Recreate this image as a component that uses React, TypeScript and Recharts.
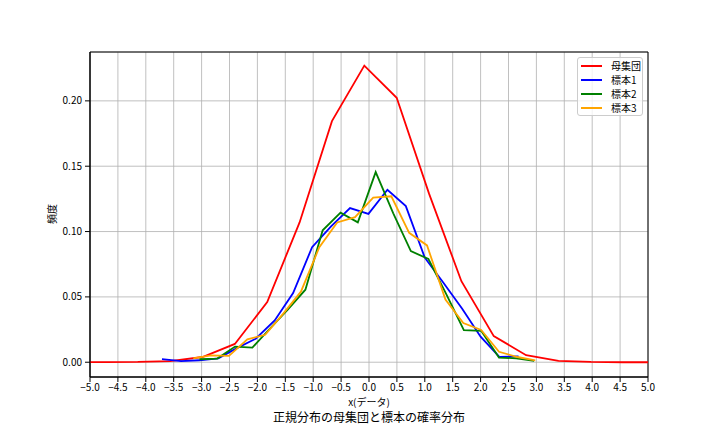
import { CartesianGrid, Line, LineChart, ReferenceArea, XAxis, YAxis } from 'recharts';

// 階級の中心 (x) と相対度数 (y)
const popX = [-5.304, -4.724, -4.144, -3.564, -2.984, -2.404, -1.824, -1.244, -0.664, -0.084, 0.496, 1.076, 1.656, 2.236, 2.816, 3.396, 3.976, 4.556, 5.136];
const popY = [0, 0.0001, 0.0002, 0.0009, 0.004, 0.014, 0.046, 0.107, 0.1845, 0.227, 0.2024, 0.129, 0.062, 0.02, 0.0054, 0.001, 0.0002, 0, 0];

const s1X = [-3.71, -3.37, -3.04, -2.7, -2.36, -2.03, -1.69, -1.36, -1.02, -0.68, -0.34, -0.01, 0.33, 0.66, 1.0, 1.33, 1.67, 2.0, 2.34, 2.68];
const s1Y = [0.0023, 0.0008, 0.0015, 0.003, 0.011, 0.018, 0.032, 0.053, 0.088, 0.104, 0.118, 0.1135, 0.132, 0.1195, 0.08, 0.061, 0.041, 0.0196, 0.004, 0.0045];

const s2X = [-3.04, -2.72, -2.4, -2.09, -1.77, -1.46, -1.14, -0.83, -0.51, -0.2, 0.12, 0.435, 0.75, 1.065, 1.38, 1.7, 2.01, 2.33, 2.64, 2.96];
const s2Y = [0.0023, 0.0028, 0.012, 0.0112, 0.026, 0.04, 0.0555, 0.101, 0.1145, 0.107, 0.1455, 0.114, 0.085, 0.079, 0.0525, 0.0245, 0.024, 0.0036, 0.003, 0.001];

const s3X = [-3.15, -2.83, -2.51, -2.18, -1.86, -1.54, -1.22, -0.89, -0.57, -0.25, 0.075, 0.4, 0.72, 1.04, 1.37, 1.69, 2.01, 2.33, 2.66, 2.98];
const s3Y = [0.003, 0.0053, 0.0048, 0.0175, 0.021, 0.037, 0.054, 0.088, 0.107, 0.111, 0.126, 0.127, 0.099, 0.0894, 0.048, 0.03, 0.0247, 0.008, 0.004, 0.0015];

const xTicks = [-5, -4.5, -4, -3.5, -3, -2.5, -2, -1.5, -1, -0.5, 0, 0.5, 1, 1.5, 2, 2.5, 3, 3.5, 4, 4.5, 5];
const yTicks = [0, 0.05, 0.1, 0.15, 0.2];

const seriesNames = ['母集団', '標本1', '標本2', '標本3'];
const seriesColors = ['#ff0000', '#0000ff', '#008000', '#ffa500'];

const FONT = '"Noto Sans CJK JP", "Noto Sans", sans-serif';
const Y_MIN = -0.0113;
const Y_MAX = 0.2374;

function toPoints(xs: number[], ys: number[]) {
  return xs.map((x, i) => ({ x, y: ys[i] }));
}

const seriesData = [
  toPoints(popX, popY),
  toPoints(s1X, s1Y),
  toPoints(s2X, s2Y),
  toPoints(s3X, s3Y),
];

const fmtX = (v: number) => v.toFixed(1).replace('-', '\u2212');
const fmtY = (v: number) => v.toFixed(2);

// 凡例はグラフの配置に影響しないよう絶対配置で重ねる
function LegendBox() {
  return (
    <div
      style={{
        position: 'absolute',
        left: 577,
        top: 57,
        width: 66,
        height: 59,
        boxSizing: 'border-box',
        border: '1px solid #cccccc',
        borderRadius: 3,
        background: 'rgba(255,255,255,0.8)',
        padding: '1px 0 0 3px',
        fontFamily: FONT,
        fontSize: 10,
        lineHeight: 1,
        color: '#000',
      }}
    >
      {seriesNames.map((name, i) => (
        <div key={name} style={{ display: 'flex', alignItems: 'center', height: 14 }}>
          <span style={{ display: 'inline-block', width: 21, height: 2, background: seriesColors[i], marginRight: 9 }} />
          <span>{name}</span>
        </div>
      ))}
    </div>
  );
}

const textStyle = {
  position: 'absolute' as const,
  fontFamily: FONT,
  lineHeight: 1,
  whiteSpace: 'nowrap' as const,
  color: '#000',
};

export default function App() {
  return (
    <div style={{ position: 'absolute', left: 0, top: 0, width: 720, height: 432, background: '#fff' }}>
      <LineChart width={720} height={432} margin={{ top: 52, right: 72, left: 0, bottom: 0 }}>
        <CartesianGrid stroke="#b0b0b0" strokeWidth={0.8} />
        <XAxis
          type="number"
          dataKey="x"
          domain={[-5, 5]}
          ticks={xTicks}
          interval={0}
          allowDataOverflow
          tickFormatter={fmtX}
          height={55}
          tickSize={5}
          tickMargin={2}
          axisLine={{ stroke: '#000' }}
          tickLine={{ stroke: '#000' }}
          tick={{ fill: '#000', fontSize: 10, fontFamily: FONT }}
        />
        <YAxis
          type="number"
          domain={[Y_MIN, Y_MAX]}
          ticks={yTicks}
          allowDataOverflow
          tickFormatter={fmtY}
          width={90}
          tickSize={5}
          tickMargin={3}
          axisLine={{ stroke: '#000' }}
          tickLine={{ stroke: '#000' }}
          tick={{ fill: '#000', fontSize: 10, fontFamily: FONT }}
        />
        <ReferenceArea x1={-5} x2={5} y1={Y_MIN} y2={Y_MAX} fill="none" stroke="#000" strokeWidth={1} />
        {seriesData.map((d, i) => (
          <Line
            key={seriesNames[i]}
            data={d}
            dataKey="y"
            name={seriesNames[i]}
            type="linear"
            stroke={seriesColors[i]}
            strokeWidth={1.8}
            dot={false}
            isAnimationActive={false}
          />
        ))}
      </LineChart>
      <LegendBox />
      <div style={{ ...textStyle, left: 52, top: 214, fontSize: 10, transform: 'translate(-50%, -50%) rotate(-90deg)' }}>
        頻度
      </div>
      <div style={{ ...textStyle, left: 369, top: 402, fontSize: 10, transform: 'translate(-50%, -50%)' }}>
        x(データ)
      </div>
      <div style={{ ...textStyle, left: 369, top: 417, fontSize: 12, transform: 'translate(-50%, -50%)' }}>
        正規分布の母集団と標本の確率分布
      </div>
    </div>
  );
}
